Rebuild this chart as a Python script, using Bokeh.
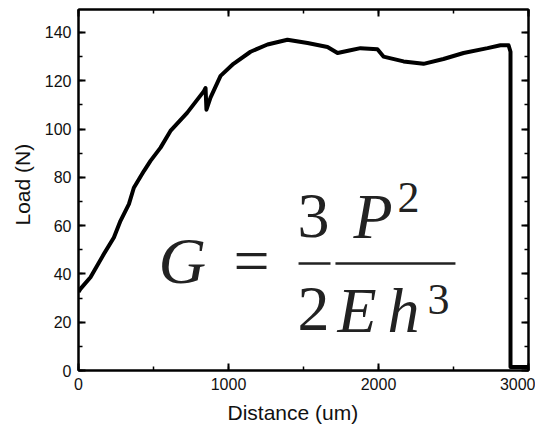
from bokeh.plotting import figure
from bokeh.models import LinearAxis, SingleIntervalTicker, Label, Range1d, Title
from bokeh.embed import file_html
from bokeh.resources import INLINE

# Data
distance = [0, 13, 80, 169, 236, 280, 336, 369, 436, 480, 547, 613, 724, 836, 847, 853,
            880, 947, 1033, 1147, 1260, 1393, 1527, 1660, 1727, 1813, 1880, 1993, 2033,
            2167, 2300, 2433, 2567, 2727, 2813, 2867, 2880, 2880, 3000]
load = [32.5, 33.8, 38.6, 48.2, 55.1, 62, 68.9, 75.7, 82.6, 86.8, 92.3, 99.2, 106.7, 115.7, 117, 108,
        113, 122, 127, 132, 135, 137, 135.6, 134, 131.5, 132.6, 133.5, 133, 130,
        128, 127, 129, 131.5, 133.5, 134.7, 134.7, 132, 1.5, 1.5]
x_ticks_interval = 1000
y_ticks_interval = 20
x_title = "Distance (um)"
y_title = "Load (N)"

p = figure(width=535, height=430, x_range=Range1d(0, 3000), y_range=Range1d(0, 149.5),
           output_backend="svg", toolbar_location=None,
           min_border_left=78, min_border_right=7, min_border_top=9, min_border_bottom=60,
           background_fill_color="white", border_fill_color="white")
p.xgrid.visible = False
p.ygrid.visible = False
p.outline_line_color = "black"
p.outline_line_width = 2

p.line(distance, load, line_color="black", line_width=4, line_join="round")

def style(ax, xaxis):
    ax.ticker = SingleIntervalTicker(interval=x_ticks_interval if xaxis else y_ticks_interval,
                                     num_minor_ticks=2)
    ax.axis_line_color = "black"
    ax.axis_line_width = 2
    ax.major_tick_in = 7
    ax.major_tick_out = 0
    ax.minor_tick_in = 4
    ax.minor_tick_out = 0
    ax.major_tick_line_width = 2
    ax.minor_tick_line_width = 1.5
    ax.major_tick_line_color = "black"
    ax.minor_tick_line_color = "black"
    ax.major_label_text_font = "Liberation Sans"
    ax.major_label_text_font_size = "16px"
    ax.major_label_text_color = "#111111"

style(p.xaxis[0], True)
style(p.yaxis[0], False)
p.xaxis[0].major_label_standoff = 7
p.yaxis[0].major_label_standoff = 7

# mirrored tick-only axes on top and right
top = LinearAxis()
right = LinearAxis()
style(top, True)
style(right, False)
for ax in (top, right):
    ax.major_label_text_font_size = "1px"
    ax.major_label_text_color = None
    ax.major_label_standoff = 0
p.add_layout(top, "above")
p.add_layout(right, "right")

# axis titles as side-panel titles so that their offsets can match the reference
p.add_layout(Title(text=x_title, align="left", offset=149, vertical_align="bottom",
                   standoff=13, text_font="Liberation Sans", text_font_size="21px",
                   text_font_style="normal", text_color="#111111"), "below")
p.add_layout(Title(text=y_title, align="left", offset=145, vertical_align="bottom",
                   standoff=16, text_font="Liberation Sans", text_font_size="21px",
                   text_font_style="normal", text_color="#111111"), "left")

# Formula G = 3/2 * P^2 / (E h^3)
serif = "Liberation Serif"
ink = "#222222"
def lab(x, y, t, size, italic, align="left"):
    p.add_layout(Label(x=x, y=y, text=t, text_font=serif, text_font_size=size,
                       text_font_style="italic" if italic else "normal",
                       text_align=align, text_baseline="middle", text_color=ink))

lab(533, 45.4, "G", "66px", True)
lab(1153, 45.6, "=", "64px", False, "center")
lab(1567, 63.8, "3", "64px", False, "center")
lab(1567, 25.5, "2", "64px", False, "center")
lab(1833, 63.8, "P", "64px", True)
lab(2127, 71.7, "2", "44px", False)
lab(1727, 24.9, "E", "64px", True)
lab(2060, 24.9, "h", "64px", True)
lab(2327, 29.6, "3", "44px", False)
p.segment(x0=[1467, 1713], y0=[44.3, 44.3], x1=[1680, 2513], y1=[44.3, 44.3],
          line_color=ink, line_width=2.5)

open("out.html", "w").write(file_html(p, INLINE))
